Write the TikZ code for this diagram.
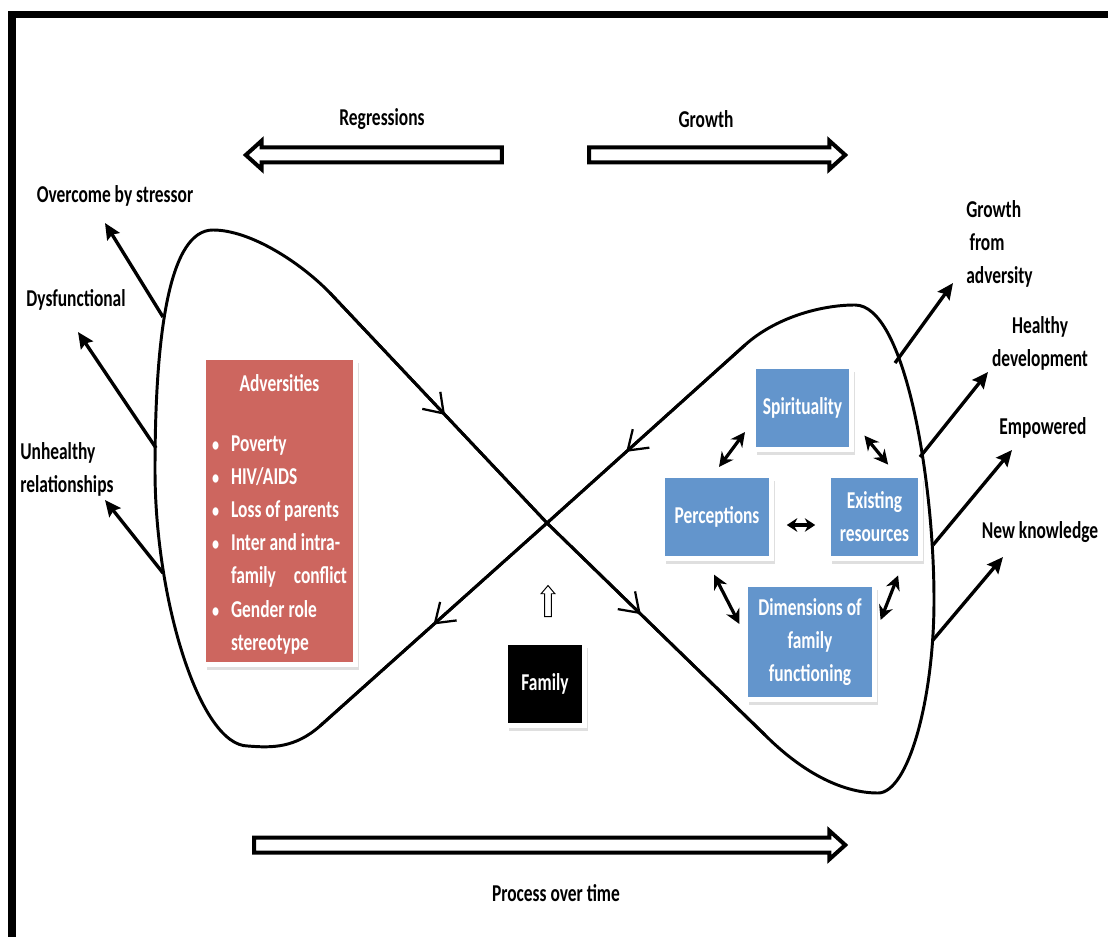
\documentclass[tikz,border=0pt]{standalone}
\usepackage{fontspec}
\setmainfont{Carlito}[FakeStretch=0.72]
\usetikzlibrary{arrows.meta,shapes.arrows,shadows,decorations.markings}
\definecolor{advred}{RGB}{205,102,95}
\definecolor{dimblue}{RGB}{99,149,204}

\begin{document}
\begin{tikzpicture}[x=0.025cm, y=-0.025cm,
  txt/.style={font=\fontsize{17.2}{23.5}\selectfont\bfseries, inner sep=0pt},
  lbl/.style={txt, align=center},
  cbox/.style={txt, draw=white, line width=0.125cm, text=white, align=center,
               drop shadow={shadow xshift=0.08cm, shadow yshift=-0.14cm, opacity=0.25}},
  advbox/.style={cbox, fill=advred, minimum width=3.8cm, minimum height=7.675cm},
  dimbox/.style={cbox, fill=dimblue, minimum height=2.075cm},
  fambox/.style={cbox, fill=black, minimum width=1.975cm, minimum height=2.075cm},
  bigarr/.style={single arrow, draw, fill=white, line width=0.1cm,
                 inner xsep=0pt, inner ysep=0.1375cm, minimum width=0.615cm,
                 single arrow head extend=0.17cm, single arrow tip angle=84},
  eight/.style={line width=2.1pt, line join=round},
  flow/.style={postaction={decorate}, decoration={markings,
               mark=at position #1 with {\arrow{Straight Barb[length=0.45cm,width=0.62cm,line width=1.6pt]}}}},
  outarr/.style={-{Stealth[length=0.4cm,width=0.36cm,inset=0.06cm]}, line width=2.4pt},
  biarr/.style={{Stealth[length=0.36cm,width=0.36cm]}-{Stealth[length=0.36cm,width=0.36cm]}, line width=2.3pt},
  shortbi/.style={{Stealth[length=0.26cm,width=0.34cm]}-{Stealth[length=0.26cm,width=0.34cm]}, line width=2.3pt}
]
\useasboundingbox (0,0) rectangle (1108,937);

%% ── frame ───────────────────────────────────────────────────────────────
\draw[line width=5.5pt] (12,937) -- (12,14.5) -- (1108,14.5);

%% ── direction arrows ────────────────────────────────────────────────────
\node[lbl] (regr) at (382,119) {Regressions};
\node[lbl] (grow) at (706,119) {Growth};
\node[bigarr, shape border rotate=180, minimum height=6.4cm] (regarr) at (378,155) {};
\node[bigarr, minimum height=6.4cm] (groarr) at (713,155) {};
\node[bigarr, minimum height=14.775cm] (procarr) at (545.5,845) {};
\node[lbl] (proc) at (556,893) {Process over time};

%% ── figure eight ────────────────────────────────────────────────────────
\coordinate (X) at (547,523);
% right loop
\coordinate (A) at (765,735);
\coordinate (B) at (878,793);
\coordinate (R) at (934,600);
\coordinate (T) at (855,305);
\coordinate (E) at (745,345);
% left loop
\coordinate (F) at (320,726);
\coordinate (G) at (248,746);
\coordinate (H) at (155,470);
\coordinate (I) at (213,230);
\coordinate (J) at (330,293);

\draw[eight] (J) -- (X) -- (A)
  .. controls (800,770) and (840,793) .. (B)
  .. controls (908,793) and (934,700) .. (R)
  .. controls (934,480) and (905,305) .. (T)
  .. controls (820,305) and (775,318) .. (E) -- (X) -- (F)
  .. controls (295,748) and (272,748) .. (G)
  .. controls (200,746) and (155,600) .. (H)
  .. controls (155,330) and (170,230) .. (I)
  .. controls (250,230) and (300,262) .. (J) -- cycle;

\draw[eight, flow=0.53] (J) -- (X);
\draw[eight, flow=0.43] (X) -- (A);
\draw[eight, flow=0.6]  (E) -- (X);
\draw[eight, flow=0.5]  (X) -- (F);

%% ── adversities ─────────────────────────────────────────────────────────
\node[advbox] (adv) at (279.5,511) {\rule{0pt}{21pt}Adversities\\[0.68cm]
  \begin{tabular}[t]{@{}l@{\hspace{0.3cm}}l@{}}
  {\fontsize{14}{14}\selectfont\textbullet} & Poverty\\
  {\fontsize{14}{14}\selectfont\textbullet} & HIV/AIDS\\
  {\fontsize{14}{14}\selectfont\textbullet} & Loss of parents\\
  {\fontsize{14}{14}\selectfont\textbullet} & Inter and intra-\\
                                            & family\hspace{0.45cm}conflict\\
  {\fontsize{14}{14}\selectfont\textbullet} & Gender role\\
                                            & stereotype
  \end{tabular}};

%% ── family ──────────────────────────────────────────────────────────────
\node[single arrow, draw, fill=white, line width=0.7pt, inner sep=0.07cm,
      single arrow head extend=0.09cm, minimum height=0.775cm,
      single arrow tip angle=80, shape border rotate=90] (up) at (548,603) {};
\node[fambox] (fam) at (545,684) {Family};

%% ── dimensions ──────────────────────────────────────────────────────────
\node[dimbox, minimum width=2.45cm]  (spir)  at (802.5,408) {Spirituality};
\node[dimbox, minimum width=2.725cm] (perc)  at (717,517)   {Perceptions};
\node[dimbox, minimum width=2.3cm]   (exist) at (874.5,517) {Existing\\resources};
\node[dimbox, minimum width=3.225cm, minimum height=2.875cm]
                                     (dims)  at (810,642)   {Dimensions of\\family\\functioning};

\draw[biarr] ([xshift=0.05cm,yshift=0.15cm]perc.north) -- ([xshift=-0.15cm,yshift=0.5cm]spir.south west);
\draw[biarr] ([xshift=0.26cm,yshift=0.41cm]spir.south east) -- ([xshift=0.34cm,yshift=0.21cm]exist.north);
\draw[shortbi] ([xshift=0.32cm,yshift=-0.2cm]perc.east) -- ([xshift=-0.27cm,yshift=-0.2cm]exist.west);
\draw[biarr] ([xshift=-0.075cm,yshift=-0.34cm]perc.south) -- ([xshift=-0.09cm,yshift=0.45cm]dims.west);
\draw[biarr] ([xshift=0.59cm,yshift=-0.36cm]exist.south) -- ([xshift=0.09cm,yshift=0.55cm]dims.east);

%% ── outcomes, left ──────────────────────────────────────────────────────
\node[lbl] (stress) at (115,196) {Overcome by stressor};
\node[lbl] (dysf)   at (76,300)  {Dysfunctional};
\node[lbl, align=left, anchor=west] (unh) at (20,469) {Unhealthy\\relationships};

\coordinate (oL1) at (163,317);  \coordinate (tL1) at (105,223);
\coordinate (oL2) at (156,448);  \coordinate (tL2) at (78,332);
\coordinate (oL3) at (163,573);  \coordinate (tL3) at (105,500);
\draw[outarr] (oL1) -- (tL1);
\draw[outarr] (oL2) -- (tL2);
\draw[outarr] (oL3) -- (tL3);

%% ── outcomes, right ─────────────────────────────────────────────────────
\node[lbl, align=left, anchor=west] (gfa) at (966,244) {Growth\\\hspace*{0.08cm}from\\adversity};
\node[lbl] (hdev) at (1040,343) {Healthy\\development};
\node[lbl] (emp)  at (1043,428) {Empowered};
\node[lbl] (newk) at (1040,532) {New knowledge};

\coordinate (oR1) at (895,363);  \coordinate (tR1) at (953,283);
\coordinate (oR2) at (920,457);  \coordinate (tR2) at (988,372);
\coordinate (oR3) at (933,545);  \coordinate (tR3) at (1012,450);
\coordinate (oR4) at (933,640);  \coordinate (tR4) at (1003,557);
\draw[outarr] (oR1) -- (tR1);
\draw[outarr] (oR2) -- (tR2);
\draw[outarr] (oR3) -- (tR3);
\draw[outarr] (oR4) -- (tR4);

\end{tikzpicture}
\end{document}
